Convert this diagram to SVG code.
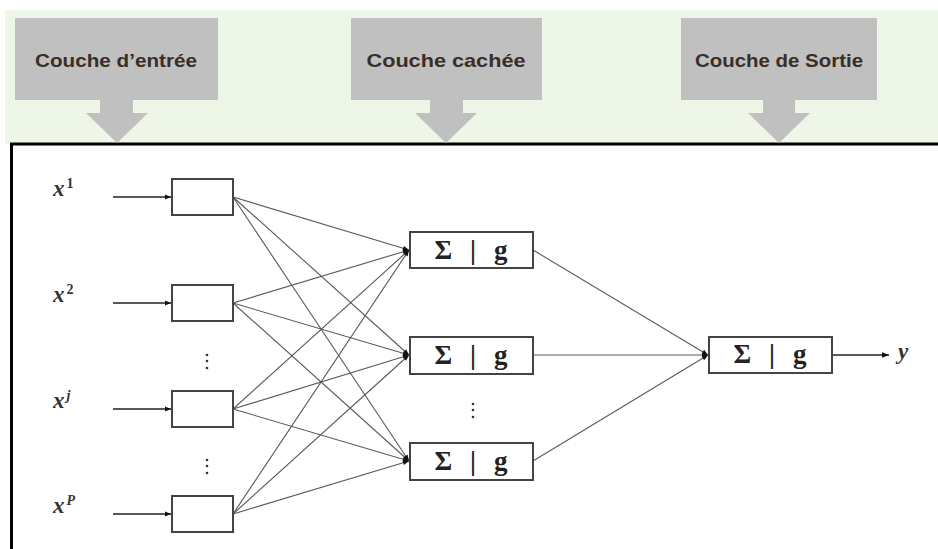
<svg xmlns="http://www.w3.org/2000/svg" width="938" height="549" viewBox="0 0 938 549">
<defs>
<style>
.hdr{fill:#c0c0c0}
.ht{font-family:"Liberation Sans",Arial,sans-serif;font-weight:bold;font-size:19px;fill:#3a2e26;text-anchor:middle}
.box{fill:#fff;stroke:#444;stroke-width:2}
.sg{font-family:"Liberation Serif","Times New Roman",serif;font-weight:bold;font-size:27px;fill:#222;text-anchor:middle}
.var{font-family:"Liberation Serif","Times New Roman",serif;font-style:italic;font-weight:bold;font-size:23px;fill:#333}
.sup{font-family:"Liberation Serif","Times New Roman",serif;font-weight:bold;font-size:14px;fill:#333}
.c{stroke:#5a5a5a;stroke-width:1.1;fill:none}
.in{stroke:#222;stroke-width:1.6;fill:none}
.dots{fill:#333}
</style>
<marker id="ah" viewBox="0 0 10 10" refX="10" refY="5" markerWidth="8" markerHeight="6" markerUnits="userSpaceOnUse" orient="auto">
<path d="M0,1 L10,5 L0,9 Z" fill="#111"/>
</marker>
<marker id="ah2" viewBox="0 0 10 10" refX="10" refY="5" markerWidth="10" markerHeight="7" markerUnits="userSpaceOnUse" orient="auto">
<path d="M0,1 L10,5 L0,9 Z" fill="#111"/>
</marker>
</defs>
<rect x="0" y="0" width="938" height="549" fill="#fff"/>
<rect x="5" y="10" width="933" height="134" fill="#eef6e8"/>
<g id="frame">
<path d="M11.5,549 V144 H938" fill="none" stroke="#000" stroke-width="3"/>
</g>
<g id="hdr-input">
<rect class="hdr" x="15" y="18" width="203" height="82"/>
<path class="hdr" d="M100,100 H133 V113 H148 L117,143 L86,113 H100 Z"/>
<text class="ht" x="116" y="67" textLength="162" lengthAdjust="spacingAndGlyphs">Couche d’entrée</text>
</g>
<g id="hdr-hidden">
<rect class="hdr" x="351" y="18" width="191" height="82"/>
<path class="hdr" d="M430,100 H463 V113 H477 L446,143 L415,113 H430 Z"/>
<text class="ht" x="446" y="67" textLength="159" lengthAdjust="spacingAndGlyphs">Couche cachée</text>
</g>
<g id="hdr-output">
<rect class="hdr" x="681" y="18" width="196" height="82"/>
<path class="hdr" d="M763,100 H795 V113 H810 L779,143 L748,113 H763 Z"/>
<text class="ht" x="779" y="67" textLength="168" lengthAdjust="spacingAndGlyphs">Couche de Sortie</text>
</g>
<g id="connectors">
<path class="in" d="M113,197 H171" marker-end="url(#ah)"/>
<path class="in" d="M113,303 H171" marker-end="url(#ah)"/>
<path class="in" d="M113,409 H171" marker-end="url(#ah)"/>
<path class="in" d="M113,514 H171" marker-end="url(#ah)"/>
<path class="c" d="M233,197 L409,250" marker-end="url(#ah)"/>
<path class="c" d="M233,197 L409,355" marker-end="url(#ah)"/>
<path class="c" d="M233,197 L409,461" marker-end="url(#ah)"/>
<path class="c" d="M233,303 L409,250" marker-end="url(#ah)"/>
<path class="c" d="M233,303 L409,355" marker-end="url(#ah)"/>
<path class="c" d="M233,303 L409,461" marker-end="url(#ah)"/>
<path class="c" d="M233,409 L409,250" marker-end="url(#ah)"/>
<path class="c" d="M233,409 L409,355" marker-end="url(#ah)"/>
<path class="c" d="M233,409 L409,461" marker-end="url(#ah)"/>
<path class="c" d="M233,514 L409,250" marker-end="url(#ah)"/>
<path class="c" d="M233,514 L409,355" marker-end="url(#ah)"/>
<path class="c" d="M233,514 L409,461" marker-end="url(#ah)"/>
<path class="c" d="M533,250 L708,355" marker-end="url(#ah)"/>
<path class="c" d="M533,355 L708,355" marker-end="url(#ah)"/>
<path class="c" d="M533,461 L708,355" marker-end="url(#ah)"/>
<path class="in" d="M832,355 H889" marker-end="url(#ah2)"/>
</g>
<g id="in1">
<rect class="box" x="172" y="179" width="61" height="36"/>
<text x="53" y="196"><tspan class="var">x</tspan><tspan class="sup" dx="2" dy="-8">1</tspan></text>
</g>
<g id="in2">
<rect class="box" x="172" y="285" width="61" height="36"/>
<text x="53" y="302"><tspan class="var">x</tspan><tspan class="sup" dx="2" dy="-8">2</tspan></text>
</g>
<g id="in3">
<rect class="box" x="172" y="391" width="61" height="36"/>
<text x="53" y="408"><tspan class="var">x</tspan><tspan class="sup" dx="2" dy="-8" font-style="italic">j</tspan></text>
</g>
<g id="in4">
<rect class="box" x="172" y="496" width="61" height="36"/>
<text x="53" y="513"><tspan class="var">x</tspan><tspan class="sup" dx="2" dy="-8" font-style="italic">P</tspan></text>
</g>
<g id="dots-in1" class="dots">
<circle cx="207" cy="355" r="1.3"/><circle cx="207" cy="361" r="1.3"/><circle cx="207" cy="368" r="1.3"/>
</g>
<g id="dots-in2" class="dots">
<circle cx="207" cy="460" r="1.3"/><circle cx="207" cy="466" r="1.3"/><circle cx="207" cy="473" r="1.3"/>
</g>
<g id="h1">
<rect class="box" x="410" y="232" width="123" height="36"/>
<text class="sg" x="471" y="259" textLength="73" lengthAdjust="spacing">Σ | g</text>
</g>
<g id="h2">
<rect class="box" x="410" y="337" width="123" height="37"/>
<text class="sg" x="471" y="364" textLength="73" lengthAdjust="spacing">Σ | g</text>
</g>
<g id="h3">
<rect class="box" x="410" y="443" width="123" height="37"/>
<text class="sg" x="471" y="470" textLength="73" lengthAdjust="spacing">Σ | g</text>
</g>
<g id="dots-h" class="dots">
<circle cx="473" cy="404" r="1.3"/><circle cx="473" cy="410" r="1.3"/><circle cx="473" cy="417" r="1.3"/>
</g>
<g id="out">
<rect class="box" x="709" y="337" width="123" height="36"/>
<text class="sg" x="770" y="363" textLength="73" lengthAdjust="spacing">Σ | g</text>
</g>
<g id="y-label">
<text class="var" x="898" y="359">y</text>
</g>
</svg>
